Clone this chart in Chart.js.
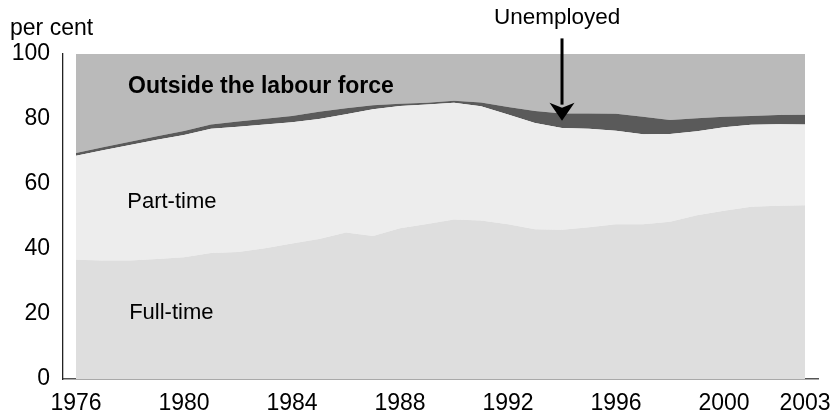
<!DOCTYPE html>
<html><head><meta charset="utf-8">
<script src="https://cdn.jsdelivr.net/npm/chart.js@4/dist/chart.umd.min.js"></script>
<style>html,body{margin:0;padding:0;background:#fff;}</style>
</head><body>
<canvas id="c" width="834" height="416"></canvas>
<script>
const years = [1976,1977,1978,1979,1980,1981,1982,1983,1984,1985,1986,1987,1988,1989,1990,1991,1992,1993,1994,1995,1996,1997,1998,1999,2000,2001,2002,2003];
const fullTime   = [36.7,36.5,36.5,36.9,37.5,38.8,39.1,40.2,41.7,43.1,45.1,44.0,46.4,47.7,49.1,48.8,47.6,46.1,45.9,46.7,47.6,47.6,48.4,50.4,51.8,53.0,53.3,53.5];
const partTime   = [32.0,33.9,35.5,36.7,37.6,38.2,38.5,38.1,37.3,36.9,36.4,39.0,37.6,36.8,35.9,35.1,33.8,32.7,31.3,30.3,28.8,27.7,27.0,25.8,25.7,25.2,25.1,24.8];
const unemployed = [0.8,0.9,1.0,1.1,1.2,1.3,1.6,1.8,1.9,2.2,1.8,1.2,0.7,0.5,0.6,1.2,2.3,3.7,4.5,4.7,5.2,5.4,4.3,4.0,3.2,2.7,2.8,3.0];
const outside    = [30.5,28.7,27.0,25.3,23.7,21.7,20.8,19.9,19.1,17.8,16.7,15.8,15.3,15.0,14.4,14.9,16.3,17.5,18.3,18.3,18.4,19.3,20.3,19.8,19.3,19.1,18.8,18.7];
const xTicks = [1976,1980,1984,1988,1992,1996,2000,2003];
const yTicks = [0,20,40,60,80,100];

const pts = arr => years.map((yr,i)=>({x:yr, y:arr[i]}));
const FONT = '"Liberation Sans", Arial, Helvetica, sans-serif';

function ds(label, arr, color, fill){
  return {label, data: pts(arr), backgroundColor: color, borderColor: color, borderWidth: 0,
          pointRadius: 0, fill, tension: 0};
}

const annot = {
  id: 'annot',
  afterDatasetsDraw(chart){
    const {ctx, scales:{x, y}} = chart;
    ctx.save();
    ctx.fillStyle = '#000';
    ctx.textBaseline = 'alphabetic';
    ctx.textAlign = 'left';
    ctx.font = '23px ' + FONT;
    ctx.fillText('per cent', 10, 35);
    ctx.font = 'bold 23px ' + FONT;
    ctx.fillText('Outside the labour force', x.getPixelForValue(1977.93), y.getPixelForValue(87.9));
    ctx.font = '22px ' + FONT;
    ctx.fillText('Part-time', x.getPixelForValue(1977.9), y.getPixelForValue(52.7));
    ctx.fillText('Full-time', x.getPixelForValue(1977.97), y.getPixelForValue(18.4));
    ctx.textAlign = 'center';
    ctx.font = '22.5px ' + FONT;
    ctx.fillText('Unemployed', x.getPixelForValue(1993.82), y.getPixelForValue(109.2));
    // arrow
    const ax = x.getPixelForValue(1994);
    const y0 = y.getPixelForValue(104.8), tip = y.getPixelForValue(79.5);
    const headH = 18, headW = 12.5;
    ctx.strokeStyle = '#000';
    ctx.lineWidth = 3;
    ctx.beginPath(); ctx.moveTo(ax, y0); ctx.lineTo(ax, tip - headH + 2); ctx.stroke();
    ctx.beginPath();
    ctx.moveTo(ax, tip);
    ctx.lineTo(ax - headW, tip - headH);
    ctx.lineTo(ax, tip - headH + 5);
    ctx.lineTo(ax + headW, tip - headH);
    ctx.closePath(); ctx.fill();
    ctx.restore();
  }
};

new Chart(document.getElementById('c'), {
  type: 'line',
  data: { datasets: [
    ds('Full-time', fullTime, '#dedede', 'origin'),
    ds('Part-time', partTime, '#ededed', '-1'),
    ds('Unemployed', unemployed, '#5a5a5a', '-1'),
    ds('Outside the labour force', outside, '#bababa', '-1')
  ]},
  options: {
    responsive: false,
    animation: false,
    layout: { padding: { top: 54, right: 16, bottom: 0, left: 0 } },
    plugins: { legend: {display:false}, tooltip: {enabled:false} },
    elements: { line: { borderWidth: 0 } },
    scales: {
      x: {
        type: 'linear', min: 1975.52, max: 2003.48,
        afterBuildTicks: s => { s.ticks = xTicks.map(v=>({value:v})); },
        afterFit: s => { s.height = 37; s.paddingLeft = 0; s.paddingRight = 0; },
        grid: { display: false, drawTicks: false },
        border: { display: true, color: '#555', width: 1.5 },
        ticks: { color: '#000', font: { family: FONT, size: 23 }, padding: 11, maxRotation: 0, autoSkip: false,
                 callback: v => String(v) }
      },
      y: {
        stacked: true, min: 0, max: 100,
        afterBuildTicks: s => { s.ticks = yTicks.map(v=>({value:v})); },
        afterFit: s => { s.width = 63; s.paddingTop = 0; s.paddingBottom = 0; },
        grid: { display: false, drawTicks: false },
        border: { display: true, color: '#222', width: 1.3 },
        ticks: { color: '#000', font: { family: FONT, size: 23 }, padding: 13 }
      }
    }
  },
  plugins: [annot]
});
</script>
</body></html>
